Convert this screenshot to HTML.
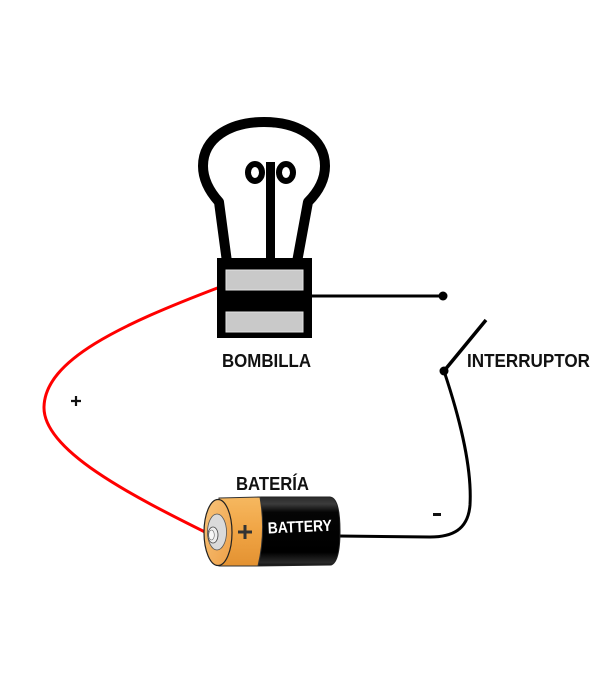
<!DOCTYPE html>
<html>
<head>
<meta charset="utf-8">
<style>
  html,body{margin:0;padding:0;background:#fff;}
  body{width:605px;height:682px;overflow:hidden;}
  svg{display:block;}
  .lbl{font-family:"Liberation Sans",sans-serif;font-weight:bold;font-size:18px;fill:#111;}
</style>
</head>
<body>
<svg width="605" height="682" viewBox="0 0 605 682" xmlns="http://www.w3.org/2000/svg">
  <defs>
    <linearGradient id="blk" x1="0" y1="0" x2="0" y2="1">
      <stop offset="0" stop-color="#2a2a2a"/>
      <stop offset="0.1" stop-color="#3c3c3c"/>
      <stop offset="0.22" stop-color="#050505"/>
      <stop offset="0.8" stop-color="#000"/>
      <stop offset="0.95" stop-color="#2a2a2a"/>
      <stop offset="1" stop-color="#111"/>
    </linearGradient>
    <linearGradient id="org" x1="0" y1="0" x2="0" y2="1">
      <stop offset="0" stop-color="#f6b860"/>
      <stop offset="0.5" stop-color="#f0a444"/>
      <stop offset="1" stop-color="#e39232"/>
    </linearGradient>
    <linearGradient id="cap" x1="0" y1="0" x2="1" y2="1">
      <stop offset="0" stop-color="#f8c47a"/>
      <stop offset="1" stop-color="#eea048"/>
    </linearGradient>
  </defs>

  <!-- red wire -->
  <path d="M220,287 C120,325 45,360 44,407 C43,450 130,495 211,535" fill="none" stroke="#ff0000" stroke-width="3"/>

  <!-- bulb outline -->
  <path d="M227,262 L219,202 C210,192 203,180 203,166 C203,138 230,122 264,122 C298,122 325,138 325,166 C325,180 318,192 308,202 L297,262" fill="none" stroke="#000" stroke-width="10" stroke-linejoin="round"/>
  <!-- filament -->
  <rect x="266" y="162" width="9" height="100" fill="#000"/>
  <ellipse cx="255" cy="172.5" rx="7" ry="8.5" fill="none" stroke="#000" stroke-width="6"/>
  <ellipse cx="286" cy="172.5" rx="7" ry="8.5" fill="none" stroke="#000" stroke-width="6"/>

  <!-- base -->
  <rect x="217" y="258" width="95" height="80" fill="#000"/>
  <rect x="226" y="270" width="77" height="20" fill="#c9c9c9" stroke="#e4e4e4" stroke-width="1"/>
  <rect x="226" y="312" width="77" height="20" fill="#c9c9c9" stroke="#e4e4e4" stroke-width="1"/>

  <!-- black wire to switch -->
  <line x1="311" y1="296" x2="443" y2="296" stroke="#000" stroke-width="3"/>
  <circle cx="443" cy="296" r="4.5" fill="#000"/>

  <!-- switch lever -->
  <line x1="444" y1="371" x2="486" y2="320" stroke="#000" stroke-width="3.5"/>
  <circle cx="444" cy="371" r="4.5" fill="#000"/>

  <!-- wire to battery -->
  <path d="M444,371 C462,425 472,470 470,505 C468,530 452,537 430,537 L338,536" fill="none" stroke="#000" stroke-width="3"/>

  <!-- minus / plus -->
  <rect x="433" y="513" width="8" height="3" fill="#111"/>
  <path d="M71,401 H81 M76,396 V406" stroke="#111" stroke-width="2.2"/>

  <!-- battery -->
  <path d="M258,497 L330,497 Q340,498 340,531 Q340,562 331,565 L256,566 Q262,532 258,497 Z" fill="url(#blk)" stroke="#222" stroke-width="1"/>
  <path d="M219,498 L260,497 Q266,532 258,566 L219,566 Z" fill="url(#org)" stroke="#333" stroke-width="1"/>
  <ellipse cx="218" cy="532.5" rx="14" ry="33" fill="url(#cap)" stroke="#222" stroke-width="1.2"/>
  <ellipse cx="217" cy="532" rx="9.5" ry="18" fill="#dadada" stroke="#555" stroke-width="0.8"/>
  <ellipse cx="213" cy="535" rx="5" ry="8" fill="#eeeeee" stroke="#444" stroke-width="0.8"/>
  <ellipse cx="211.5" cy="535" rx="2.8" ry="5" fill="#f8f8f8" stroke="#666" stroke-width="0.6"/>
  <path d="M238,532 H252 M245,525 V539" stroke="#333" stroke-width="3"/>
  <text x="268" y="533.5" transform="rotate(-2.5 268 533)" font-family="Liberation Sans, sans-serif" font-weight="bold" font-size="16" fill="#fff" textLength="64" lengthAdjust="spacingAndGlyphs">BATTERY</text>

  <!-- labels -->
  <text class="lbl" x="222" y="367" textLength="89" lengthAdjust="spacingAndGlyphs">BOMBILLA</text>
  <text class="lbl" x="467" y="367" textLength="123" lengthAdjust="spacingAndGlyphs">INTERRUPTOR</text>
  <text class="lbl" x="236" y="490" textLength="73" lengthAdjust="spacingAndGlyphs">BATERÍA</text>
</svg>
</body>
</html>
